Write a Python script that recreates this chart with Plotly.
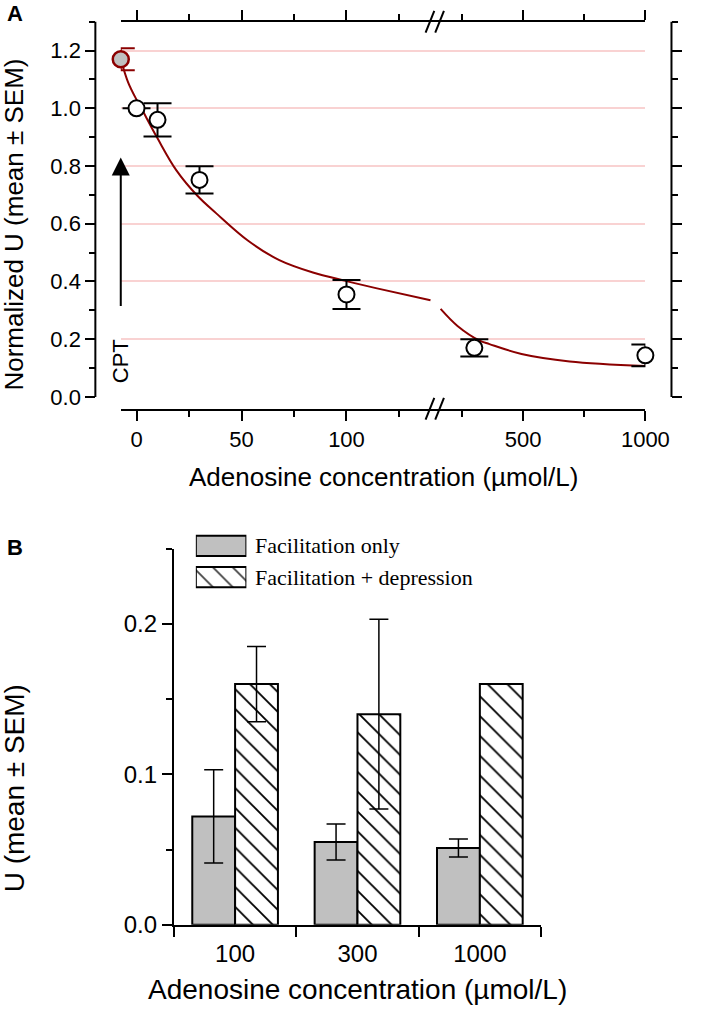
import plotly.graph_objects as go

W, H = 709, 1024

# ---- Panel A: normalized U vs adenosine ----
conc = [0, 10, 30, 100, 300, 1000]
u_norm = [1.0, 0.96, 0.752, 0.355, 0.17, 0.144]
u_norm_sem = [None, 0.058, 0.047, 0.05, 0.03, 0.038]

cpt_x = -7.5
cpt_u = 1.17
cpt_sem = 0.038

# fitted curve (two pieces around the axis break)
fit_x_low = [-7.5, -4, 0, 2.3, 10, 19, 29, 38, 53, 68, 84, 99, 114, 140]
fit_y_low = [1.17, 1.09, 1.03, 1.0, 0.896, 0.785, 0.697, 0.636, 0.542, 0.474, 0.431, 0.403, 0.377, 0.335]
fit_x_high = [162, 231, 322, 362, 493, 690, 1000]
fit_y_high = [0.305, 0.246, 0.195, 0.183, 0.149, 0.123, 0.107]

a_yticks = [0, 0.2, 0.4, 0.6, 0.8, 1.0, 1.2]
a_yminor = [0.1, 0.3, 0.5, 0.7, 0.9, 1.1, 1.3]

# ---- Panel B: U per group ----
conc_labels = ["100", "300", "1000"]
fac_only = [0.072, 0.055, 0.051]
fac_only_sem = [0.031, 0.012, 0.006]
fac_dep = [0.16, 0.14, 0.16]
fac_dep_sem = [0.025, 0.063, None]

b_yticks = [0, 0.1, 0.2]
b_yminor = [0.05, 0.15, 0.25]

BREAK = 142
DARKRED = "#8b0000"
GREY = "#c0c0c0"
PINK = "#f9d2d2"
SANS = "Liberation Sans, Arial, sans-serif"
SERIF = "Liberation Serif, Times New Roman, serif"


# page pixel -> paper fraction
def px_x(p):
    return p / W


def px_y(p):
    return 1 - p / H


A_Y_RANGE = [-0.041, 1.3001]
A_Y_DOM = [px_y(414), px_y(22)]


def ya_paper(v):
    f = (v - A_Y_RANGE[0]) / (A_Y_RANGE[1] - A_Y_RANGE[0])
    return A_Y_DOM[0] + f * (A_Y_DOM[1] - A_Y_DOM[0])


fig = go.Figure()

# fitted curve
fig.add_trace(go.Scatter(x=fit_x_low, y=fit_y_low, mode="lines", line=dict(color=DARKRED, width=2, shape="spline"),
                         xaxis="x", yaxis="y", showlegend=False, cliponaxis=False))
fig.add_trace(go.Scatter(x=fit_x_high, y=fit_y_high, mode="lines", line=dict(color=DARKRED, width=2, shape="spline"),
                         xaxis="x2", yaxis="y", showlegend=False, cliponaxis=False))

# data points split around the break
for axis, keep in (("x", lambda c: c < BREAK), ("x2", lambda c: c >= BREAK)):
    idx = [i for i, c in enumerate(conc) if keep(c)]
    fig.add_trace(go.Scatter(
        x=[conc[i] for i in idx], y=[u_norm[i] for i in idx], mode="markers",
        marker=dict(size=16, color="white", line=dict(color="black", width=2)),
        error_y=dict(type="data", array=[u_norm_sem[i] for i in idx], color="black", thickness=2, width=14),
        xaxis=axis, yaxis="y", showlegend=False, cliponaxis=False))

# CPT point
fig.add_trace(go.Scatter(
    x=[cpt_x], y=[cpt_u], mode="markers",
    marker=dict(size=16, color=GREY, line=dict(color=DARKRED, width=2.5)),
    error_y=dict(type="data", array=[cpt_sem], color=DARKRED, thickness=2, width=14),
    xaxis="x", yaxis="y", showlegend=False, cliponaxis=False))

# dummy for right y axis
fig.add_trace(go.Scatter(x=[None], y=[None], xaxis="x2", yaxis="y2", showlegend=False, hoverinfo="skip"))

# ---- Panel B bars ----
hatch = dict(shape="\\", fgcolor="black", fgopacity=1, size=14, solidity=0.13)
cat_pos = list(range(1, len(conc_labels) + 1))
fig.add_trace(go.Bar(
    x=cat_pos, y=fac_only, name="Facilitation only",
    marker=dict(color=GREY, line=dict(color="black", width=2)),
    error_y=dict(type="data", array=fac_only_sem, color="black", thickness=1.5, width=9.5),
    xaxis="x3", yaxis="y3", showlegend=False))
fig.add_trace(go.Bar(
    x=cat_pos, y=fac_dep, name="Facilitation + depression",
    marker=dict(color="white", line=dict(color="black", width=2), pattern=hatch),
    error_y=dict(type="data", array=fac_dep_sem, color="black", thickness=1.5, width=9.5),
    xaxis="x3", yaxis="y3", showlegend=False))

# legend swatches
fig.add_trace(go.Bar(
    x=[1, 1], y=[0, 1], orientation="h", width=0.65,
    marker=dict(color=[GREY, "white"], line=dict(color="black", width=2),
                pattern=dict(shape=["", "\\"], fgcolor="black", fgopacity=1, size=14, solidity=0.13)),
    xaxis="x4", yaxis="y4", showlegend=False, cliponaxis=False, hoverinfo="skip"))

tick_a = dict(family=SANS, size=22, color="black")
tick_b = dict(family=SANS, size=24, color="black")

xa_common = dict(anchor="y", showline=True, linecolor="black", linewidth=2, mirror="ticks",
                 ticks="outside", ticklen=10, tickwidth=2, tickcolor="black",
                 showgrid=False, zeroline=False, tickfont=tick_a)
ya_common = dict(domain=A_Y_DOM, range=A_Y_RANGE, anchor="free", showline=False,
                 ticks="outside", ticklen=10, tickwidth=2, tickcolor="black",
                 tickvals=a_yticks, ticktext=["%.1f" % v for v in a_yticks],
                 minor=dict(tickvals=a_yminor, ticks="outside", ticklen=6, tickwidth=2, tickcolor="black", showgrid=False),
                 tickfont=tick_a)

fig.update_layout(
    width=W, height=H,
    margin=dict(l=0, r=0, t=0, b=0),
    paper_bgcolor="white", plot_bgcolor="white",
    barmode="group", bargap=0.3, bargroupgap=0,
    xaxis=dict(domain=[px_x(125), px_x(451)], range=[-7.5, 142.5], tickvals=[0, 50, 100],
               minor=dict(tickvals=[25, 75, 125], ticks="outside", ticklen=6, tickwidth=2, tickcolor="black"),
               **xa_common),
    xaxis2=dict(domain=[px_x(451), px_x(668)], range=[BREAK, 1000], tickvals=[500, 1000],
                minor=dict(tickvals=[250, 750], ticks="outside", ticklen=6, tickwidth=2, tickcolor="black"),
                **xa_common),
    yaxis=dict(position=px_x(98.7), showgrid=True, gridcolor=PINK, gridwidth=1.5,
               zeroline=True, zerolinecolor="rgba(0,0,0,0)", **ya_common),
    yaxis2=dict(overlaying="y", side="right", position=px_x(695), showgrid=False, zeroline=False,
                showticklabels=False, **ya_common),
    xaxis3=dict(domain=[px_x(180), px_x(560)], range=[0.5, 3.5], anchor="y3",
                showline=True, linecolor="black", linewidth=2,
                ticks="outside", ticklen=0, tickvals=cat_pos, ticktext=conc_labels, ticklabelstandoff=6,
                minor=dict(tickvals=[0.5, 1.5, 2.5, 3.5], ticks="outside", ticklen=10, tickwidth=2, tickcolor="black"),
                showgrid=False, zeroline=False, tickfont=tick_b),
    yaxis3=dict(domain=[px_y(936.7), px_y(555.7)], range=[0, 0.25], anchor="x3",
                showline=True, linecolor="black", linewidth=2,
                ticks="outside", ticklen=10, tickwidth=2, tickcolor="black",
                tickvals=b_yticks, ticktext=["%.1f" % v for v in b_yticks],
                minor=dict(tickvals=b_yminor, ticks="outside", ticklen=6, tickwidth=2, tickcolor="black"),
                showgrid=False, zeroline=False, tickfont=tick_b),
    xaxis4=dict(domain=[px_x(202.7), px_x(255)], range=[0, 1], anchor="y4", visible=False),
    yaxis4=dict(domain=[px_y(600.25), px_y(537.25)], range=[1.5, -0.5], anchor="x4", visible=False),
)

shapes = []
# left / right y-axis lines, only from 0 to 1.3
for xp in (98.7, 695):
    shapes.append(dict(type="line", xref="paper", yref="paper", x0=px_x(xp), x1=px_x(xp),
                       y0=ya_paper(0), y1=ya_paper(1.3), line=dict(color="black", width=2)))
# axis break marks
for yp in (22, 414):
    for xc in (445, 455):
        shapes.append(dict(type="line", xref="paper", yref="paper",
                           x0=px_x(xc - 4.5), x1=px_x(xc + 4.5), y0=px_y(yp + 11), y1=px_y(yp - 11),
                           line=dict(color="black", width=2)))
fig.update_layout(shapes=shapes)

title_a = dict(family=SANS, size=26, color="black")
title_b = dict(family=SANS, size=28, color="black")


def note(text, x, y, font, angle=0, xanchor="center"):
    return dict(text=text, x=px_x(x), y=px_y(y), xref="paper", yref="paper", showarrow=False,
                textangle=angle, xanchor=xanchor, yanchor="middle", font=font)


annotations = [
    note("<b>A</b>", 16, 14, dict(family=SANS, size=22, color="black")),
    note("<b>B</b>", 16, 555, dict(family=SANS, size=22, color="black")),
    note("Normalized U (mean ± SEM)", 15, 227, title_a, angle=-90),
    note("Adenosine concentration (µmol/L)", 397, 483, title_a),
    note("U (mean ± SEM)", 15, 798, title_b, angle=-90),
    note("Adenosine concentration (µmol/L)", 370, 1002, title_b),
    note("Facilitation only", 261.7, 553, dict(family=SERIF, size=22, color="black"), xanchor="left"),
    note("Facilitation + depression", 261.7, 584.5, dict(family=SERIF, size=22, color="black"), xanchor="left"),
    # CPT arrow and label
    dict(text="", x=cpt_x, y=0.83, ax=cpt_x, ay=0.31, xref="x", yref="y", axref="x", ayref="y",
         showarrow=True, arrowhead=2, arrowsize=1.8, arrowwidth=2, arrowcolor="black"),
    dict(text="CPT", textangle=-90, x=cpt_x, y=0.123, xref="x", yref="y", showarrow=False,
         xanchor="center", yanchor="middle", font=dict(family=SANS, size=22, color="black")),
]
fig.update_layout(annotations=annotations)

fig.write_html("out.html", config={"displayModeBar": False},
               post_script="document.body.style.margin='0';document.body.style.overflow='hidden';")
